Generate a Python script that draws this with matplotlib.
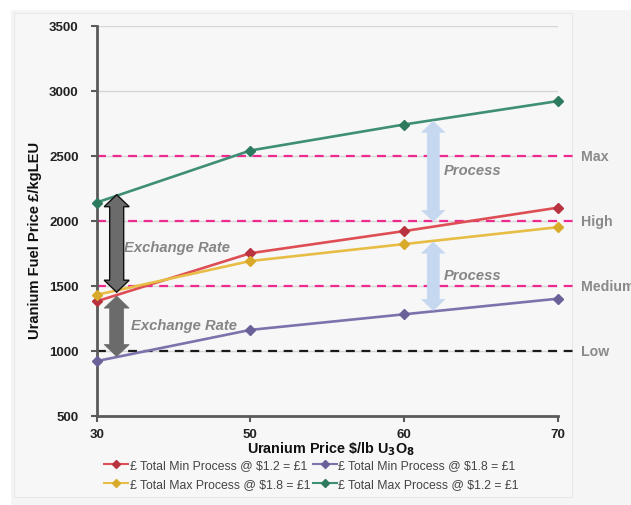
import matplotlib
matplotlib.use("Agg")
import matplotlib.pyplot as plt
from matplotlib.patches import Polygon, Rectangle

# ---------------- data ----------------
categories = ["30", "50", "60", "70"]
min_12 = [1380, 1750, 1920, 2100]   # £ Total Min Process @ $1.2 = £1
min_18 = [920, 1160, 1280, 1400]    # £ Total Min Process @ $1.8 = £1
max_18 = [1430, 1690, 1820, 1950]   # £ Total Max Process @ $1.8 = £1
max_12 = [2140, 2540, 2740, 2920]   # £ Total Max Process @ $1.2 = £1
series_labels = ["£ Total Min Process @ $1.2 = £1",
                 "£ Total Max Process @ $1.8 = £1",
                 "£ Total Min Process @ $1.8 = £1",
                 "£ Total Max Process @ $1.2 = £1"]
level_values = [2500, 2000, 1500, 1000]
level_labels = ["Max", "High", "Medium", "Low"]
yticks = [500, 1000, 1500, 2000, 2500, 3000, 3500]

FONT = "Liberation Sans"
plt.rcParams["font.family"] = [FONT, "DejaVu Sans"]

W, H = 631, 506
fig = plt.figure(figsize=(W / 100, H / 100), dpi=100, facecolor="white")
fig.patches.append(Rectangle((11 / W, 0), 1 - 11 / W, 1 - 11 / H,
                             transform=fig.transFigure, facecolor="#f5f5f5",
                             edgecolor="none", zorder=-10))
fig.patches.append(Rectangle((14 / W, 8 / H), (572 - 14) / W, 1 - 22 / H,
                             transform=fig.transFigure, facecolor="#f7f7f7",
                             edgecolor="#e8e8e8", lw=0.8, zorder=-9))

ax = fig.add_axes([96.7 / W, 1 - 416.7 / H, (557.7 - 96.7) / W, (416.7 - 26.7) / H])
ax.set_facecolor("#f7f7f7")
x = list(range(len(categories)))
ax.set_xlim(0, 3)
ax.set_ylim(500, 3500)

for v in yticks:
    ax.axhline(v, color="#d6d6d6", lw=1.0, zorder=0)

# level dashed lines
for v, lab in zip(level_values, level_labels):
    col = "#1a1a1a" if lab == "Low" else "#ee2a8e"
    ax.plot([0, 3.1], [v, v], ls=(0, (4, 3)), color=col, lw=1.6,
            clip_on=False, zorder=2)
    ax.text(3.15, v, lab, ha="left", va="center", fontsize=10.2,
            fontweight="bold", color="#8a8a8a", clip_on=False)

styles = [
    (min_12, "#dd4f55", "#b8323f"),
    (max_18, "#e8bd45", "#d9a92a"),
    (min_18, "#7c73ad", "#6a6199"),
    (max_12, "#3f8f74", "#2e7a5e"),
]
handles = []
for (vals, c, mc), lab in zip(styles, series_labels):
    ln, = ax.plot(x, vals, color=c, lw=1.9, marker="D", markersize=5.5,
                  markerfacecolor=mc, markeredgecolor=mc, zorder=4,
                  clip_on=False, label=lab)
    handles.append(ln)


def double_arrow(ax, xc, y0, y1, shaft_px, head_px, headlen_px, fc, ec, lw, z=5):
    # convert pixel sizes into data units
    p0 = ax.transData.transform((0, 0))
    p1 = ax.transData.transform((1, 1000))
    px_x = (p1[0] - p0[0])          # pixels per category unit
    px_y = (p1[1] - p0[1]) / 1000   # pixels per value unit
    s = shaft_px / 2 / px_x
    h = head_px / 2 / px_x
    hl = headlen_px / px_y
    top, bot = max(y0, y1), min(y0, y1)
    pts = [(xc, top), (xc + h, top - hl), (xc + s, top - hl),
           (xc + s, bot + hl), (xc + h, bot + hl), (xc, bot),
           (xc - h, bot + hl), (xc - s, bot + hl), (xc - s, top - hl),
           (xc - h, top - hl)]
    ax.add_patch(Polygon(pts, closed=True, facecolor=fc, edgecolor=ec,
                         lw=lw, zorder=z, clip_on=False))


fig.canvas.draw()
double_arrow(ax, 0.13, 2200, 1450, 14, 25, 12, "#6b6b6b", "#111111", 1.0)
double_arrow(ax, 0.13, 1420, 955, 14, 25, 12, "#6b6b6b", "#6b6b6b", 0.5)
double_arrow(ax, 2.19, 2765, 1995, 12, 23, 11, "#c6d8f0", "#c6d8f0", 0.5)
double_arrow(ax, 2.19, 1835, 1310, 12, 23, 11, "#c6d8f0", "#c6d8f0", 0.5)

tkw = dict(fontsize=10.6, fontweight="bold", fontstyle="italic", color="#858585", zorder=6)
ax.text(0.18, 1800, "Exchange Rate", ha="left", va="center", **tkw)
ax.text(0.22, 1200, "Exchange Rate", ha="left", va="center", **tkw)
ax.text(2.26, 2390, "Process", ha="left", va="center", **tkw)
ax.text(2.26, 1582, "Process", ha="left", va="center", **tkw)

# axes styling
for sp in ["top", "right"]:
    ax.spines[sp].set_visible(False)
for sp in ["left", "bottom"]:
    ax.spines[sp].set_color("#5a5a5a")
    ax.spines[sp].set_linewidth(2.0)
ax.set_xticks(x)
ax.set_xticklabels(categories)
ax.set_yticks(yticks)
ax.tick_params(axis="both", colors="#5a5a5a", length=4, width=1.5,
               labelcolor="#222222", labelsize=9.5)
for t in ax.get_xticklabels() + ax.get_yticklabels():
    t.set_fontweight("bold")
ax.tick_params(axis="y", pad=9)
ax.tick_params(axis="x", pad=5)

fig.text(331 / W, 1 - 449 / H, r"Uranium Price \$/lb U$_\mathbf{3}$O$_\mathbf{8}$",
         ha="center", va="center", fontsize=10.4, fontweight="bold", color="#111111")
fig.text(35 / W, 1 - 240 / H, "Uranium Fuel Price £/kgLEU", rotation=90,
         ha="center", va="center", fontsize=10.6, fontweight="bold", color="#111111")

leg = fig.legend(handles=handles, loc="upper left",
                 bbox_to_anchor=(104 / W, 1 - 460 / H), ncol=2, frameon=False,
                 fontsize=8.8, handlelength=2.0, handletextpad=0.1,
                 columnspacing=0.2, labelspacing=0.6, borderaxespad=0,
                 borderpad=0)
for t in leg.get_texts():
    t.set_color("#444444")
for lh in leg.legend_handles:
    lh.set_markersize(4)
    lh.set_linewidth(1.5)

fig.savefig("out.png", dpi=100, facecolor=fig.get_facecolor())
